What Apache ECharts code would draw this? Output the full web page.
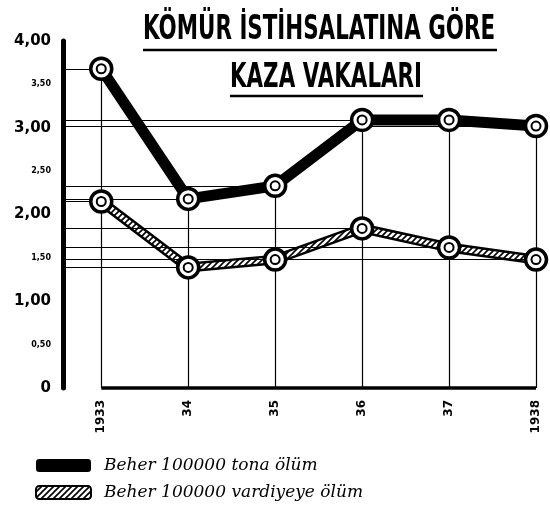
<!DOCTYPE html>
<html>
<head>
<meta charset="utf-8">
<script src="https://cdn.jsdelivr.net/npm/echarts@6/dist/echarts.min.js"></script>
<style>
  html, body { margin: 0; padding: 0; background: #fff; }
  #chart { width: 550px; height: 521px; }
</style>
</head>
<body>
<div id="chart"></div>
<script>
// data
const years = [1933, 1934, 1935, 1936, 1937, 1938];
const yearLabels = ["1933", "34", "35", "36", "37", "1938"];
const tonDeaths = [3.68, 2.18, 2.33, 3.09, 3.09, 3.02];     // Beher 100000 tona ölüm
const shiftDeaths = [2.15, 1.39, 1.48, 1.84, 1.62, 1.48];   // Beher 100000 vardiyeye ölüm
const seriesNames = ["Beher 100000 tona ölüm", "Beher 100000 vardiyeye ölüm"];
const titleLines = ["KÖMÜR İSTİHSALATINA GÖRE", "KAZA VAKALARI"];

const xMin = 1932.56;

// hatch pattern for the second band
const hatch = document.createElement("canvas");
hatch.width = 6;
hatch.height = 6;
const hc = hatch.getContext("2d");
hc.fillStyle = "#fff";
hc.fillRect(0, 0, 6, 6);
hc.strokeStyle = "#000";
hc.lineWidth = 1.6;
hc.beginPath();
hc.moveTo(-1, 7); hc.lineTo(7, -1);
hc.moveTo(-1, 1); hc.lineTo(1, -1);
hc.moveTo(5, 7); hc.lineTo(7, 5);
hc.stroke();
const hatchFill = { image: hatch, repeat: "repeat" };

// guide lines: horizontal from axis to every point, vertical from top point down
const guides = [];
years.forEach((yr, i) => {
  guides.push([{ coord: [xMin, tonDeaths[i]] }, { coord: [yr, tonDeaths[i]] }]);
  guides.push([{ coord: [xMin, shiftDeaths[i]] }, { coord: [yr, shiftDeaths[i]] }]);
  guides.push([{ coord: [yr, Math.max(tonDeaths[i], shiftDeaths[i])] }, { coord: [yr, 0] }]);
});
const baseLine = [[{ coord: [years[0], 0] }, { coord: [years[years.length - 1], 0] }]];

const tonPts = years.map((y, i) => [y, tonDeaths[i]]);
const shiftPts = years.map((y, i) => [y, shiftDeaths[i]]);
const allPts = tonPts.concat(shiftPts);

// squeeze the title into a narrow poster lettering
function fitScale(text, font, target) {
  const c = document.createElement("canvas").getContext("2d");
  c.font = font;
  return target / c.measureText(text).width;
}
const titleFont = "bold 32px 'DejaVu Sans'";

const chart = echarts.init(document.getElementById("chart"));
const option = {
  backgroundColor: "#fff",
  animation: false,
  grid: { left: 63, right: 14, top: 41, bottom: 133 },
  xAxis: {
    type: "value",
    min: xMin,
    max: 1938,
    axisLine: { show: false },
    axisTick: { show: false },
    splitLine: { show: false },
    axisLabel: {
      customValues: years,
      rotate: 90,
      margin: 12,
      fontSize: 12,
      fontWeight: "bold",
      fontFamily: "DejaVu Sans",
      color: "#000",
      formatter: (v) => yearLabels[years.indexOf(Math.round(v))] || ""
    }
  },
  yAxis: {
    type: "value",
    min: 0,
    max: 4,
    interval: 0.5,
    axisLine: { show: true, lineStyle: { color: "#000", width: 5 } },
    axisTick: { show: false },
    splitLine: { show: false },
    axisLabel: {
      margin: 12,
      color: "#000",
      formatter: (v) => {
        if (v === 0) return "{b|0}";
        const s = v.toFixed(2).replace(".", ",");
        return Number.isInteger(v) ? "{b|" + s + "}" : "{s|" + s + "}";
      },
      rich: {
        b: { fontSize: 15, fontWeight: "bold", fontFamily: "DejaVu Sans", color: "#000" },
        s: { fontSize: 8, fontWeight: "bold", fontFamily: "DejaVu Sans", color: "#000" }
      }
    }
  },
  legend: {
    orient: "vertical",
    left: 30,
    top: 452,
    itemWidth: 55,
    itemHeight: 13,
    itemGap: 10,
    selectedMode: false,
    textStyle: { fontSize: 17, fontStyle: "italic", fontFamily: "DejaVu Serif", color: "#000", padding: [0, 0, 0, 8] },
    data: [
      { name: seriesNames[0], icon: "roundRect", itemStyle: { color: "#000", borderWidth: 0 } },
      { name: seriesNames[1], icon: "roundRect", itemStyle: { color: hatchFill, borderColor: "#000", borderWidth: 2 } }
    ]
  },
  graphic: [
    {
      type: "text", left: 143, top: 13,
      scaleX: fitScale(titleLines[0], titleFont, 352), scaleY: 1.05, originX: 0,
      style: { text: titleLines[0], font: titleFont, fill: "#000" }
    },
    {
      type: "text", left: 230, top: 61,
      scaleX: fitScale(titleLines[1], titleFont, 192), scaleY: 1.05, originX: 0,
      style: { text: titleLines[1], font: titleFont, fill: "#000" }
    },
    { type: "line", shape: { x1: 143, y1: 50, x2: 497, y2: 50 }, style: { stroke: "#000", lineWidth: 2.5 } },
    { type: "line", shape: { x1: 230, y1: 96, x2: 423, y2: 96 }, style: { stroke: "#000", lineWidth: 2.5 } }
  ],
  series: [
    {
      name: "guides",
      type: "line",
      data: [],
      z: 1,
      markLine: {
        silent: true,
        symbol: "none",
        label: { show: false },
        lineStyle: { color: "#000", width: 1.2, type: "solid" },
        data: guides
      }
    },
    {
      name: "base",
      type: "line",
      data: [],
      z: 1,
      markLine: {
        silent: true,
        symbol: "none",
        label: { show: false },
        lineStyle: { color: "#000", width: 3.5, type: "solid" },
        data: baseLine
      }
    },
    {
      name: seriesNames[0],
      type: "line",
      data: tonPts,
      z: 3,
      showSymbol: false,
      color: "#000",
      lineStyle: { color: "#000", width: 11 }
    },
    {
      name: seriesNames[1],
      type: "line",
      data: shiftPts,
      z: 3,
      showSymbol: false,
      color: "#000",
      lineStyle: { color: "#000", width: 10 }
    },
    {
      name: "hatch",
      type: "line",
      data: shiftPts,
      z: 4,
      showSymbol: false,
      lineStyle: { color: hatchFill, width: 5 }
    },
    {
      name: "rings",
      type: "scatter",
      data: allPts,
      z: 5,
      symbol: "circle",
      symbolSize: 21,
      itemStyle: { color: "#fff", borderColor: "#000", borderWidth: 3.5, opacity: 1 }
    },
    {
      name: "inner",
      type: "scatter",
      data: allPts,
      z: 6,
      symbol: "circle",
      symbolSize: 9,
      itemStyle: { color: "#fff", borderColor: "#000", borderWidth: 2, opacity: 1 }
    }
  ]
};
chart.setOption(option);
</script>
</body>
</html>
